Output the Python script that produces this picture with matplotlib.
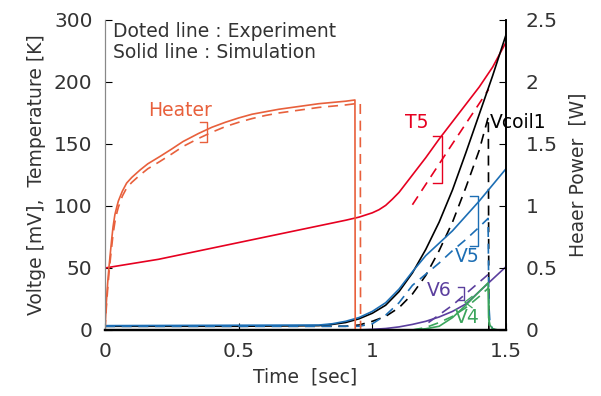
import numpy as np
import matplotlib.pyplot as plt

plt.rcParams['font.family'] = ['DejaVu Sans', 'Noto Sans CJK JP']

# heater power [W] (right axis)
heater_sim_t = [0, 0.005, 0.01, 0.015, 0.02, 0.025, 0.03, 0.037, 0.045, 0.05, 0.065,
                0.081, 0.1, 0.131, 0.16, 0.206, 0.25, 0.292, 0.35, 0.4, 0.45, 0.5,
                0.55, 0.6, 0.65, 0.7, 0.75, 0.8, 0.85, 0.9, 0.935, 0.936, 1.5]
heater_sim_w = [0, 0.22, 0.38, 0.51, 0.62, 0.73, 0.83, 0.93, 1.00, 1.04, 1.12,
                1.185, 1.23, 1.29, 1.34, 1.40, 1.46, 1.52, 1.585, 1.635, 1.675, 1.71,
                1.74, 1.76, 1.78, 1.795, 1.81, 1.825, 1.835, 1.845, 1.855, 0.0, 0.0]
heater_exp_t = [0, 0.005, 0.01, 0.015, 0.02, 0.025, 0.03, 0.037, 0.045, 0.05, 0.065,
                0.081, 0.1, 0.131, 0.16, 0.206, 0.25, 0.292, 0.35, 0.4, 0.45, 0.5,
                0.55, 0.6, 0.65, 0.7, 0.75, 0.8, 0.85, 0.9, 0.955, 0.956, 1.5]
heater_exp_w = [0, 0.18, 0.33, 0.46, 0.57, 0.67, 0.77, 0.87, 0.95, 0.99, 1.08,
                1.145, 1.19, 1.25, 1.30, 1.36, 1.42, 1.48, 1.545, 1.595, 1.64, 1.675,
                1.705, 1.73, 1.75, 1.765, 1.78, 1.795, 1.805, 1.815, 1.83, 0.0, 0.0]

# T5 [K]
t5_sim_t = [0, 0.2, 0.4, 0.6, 0.8, 0.9, 0.95, 1.0, 1.025, 1.05, 1.075, 1.1, 1.125,
            1.15, 1.2, 1.25, 1.3, 1.35, 1.4, 1.45, 1.5]
t5_sim = [50, 57, 66, 75, 84, 88.5, 91, 94.5, 97, 100.5, 105.5, 111, 118,
          125, 139, 154, 168, 182, 196, 212, 232]
t5_exp_t = [1.15, 1.29, 1.435]
t5_exp = [101, 147, 194]

# Vcoil1 [mV]
vc_sim_t = [0, 0.5, 0.8, 0.85, 0.9, 0.95, 1.0, 1.05, 1.1, 1.15, 1.2, 1.25, 1.3,
            1.35, 1.4, 1.45, 1.5]
vc_sim = [3, 3, 3.5, 4.5, 6, 9, 13.5, 20, 31, 46, 65, 87, 113, 143, 174, 205, 238]
vc_exp_t = [0, 0.9, 0.95, 1.0, 1.05, 1.1, 1.15, 1.2, 1.25, 1.3, 1.35, 1.4, 1.434,
            1.436, 1.5]
vc_exp = [3, 3, 4, 7, 11, 18, 29, 44, 64, 87, 115, 145, 172, 0, 0]

# V5 [mV]
v5_sim_t = [0, 0.8, 0.85, 0.9, 0.95, 1.0, 1.05, 1.1, 1.15, 1.2, 1.25, 1.3, 1.35,
            1.4, 1.45, 1.5]
v5_sim = [3.5, 4, 5, 7, 10, 15, 22, 33, 47, 60, 70, 80, 92, 104, 117, 130]
v5_exp_t = [0, 0.95, 1.0, 1.05, 1.1, 1.15, 1.2, 1.25, 1.3, 1.35, 1.4, 1.433,
            1.436, 1.44, 1.45, 1.46]
v5_exp = [3, 3, 5, 12, 22, 36, 45, 54, 64, 73, 83, 90, 20, 6, 1, 0]

# V6 [mV]
v6_sim_t = [0.95, 1.0, 1.05, 1.1, 1.15, 1.2, 1.25, 1.3, 1.35, 1.4, 1.45, 1.5]
v6_sim = [0, 0.5, 1.2, 2.5, 4.5, 7, 10.5, 15, 21, 31, 41, 51]
v6_exp_t = [1.21, 1.3, 1.44]
v6_exp = [6, 20, 46]

# V4 [mV]
v4_sim_t = [1.15, 1.2, 1.25, 1.3, 1.35, 1.4, 1.433, 1.435, 1.44, 1.45, 1.47]
v4_sim = [0, 1, 3, 10, 20, 31, 38, 10, 4, 1, 0]
v4_exp_t = [1.15, 1.2, 1.25, 1.3, 1.35, 1.4, 1.435, 1.437, 1.44]
v4_exp = [0, 2, 6, 11, 18, 27, 34, 5, 0]

c_heat = '#E8603C'
c_t5 = '#E60020'
c_vc = '#000000'
c_v5 = '#1C6EB4'
c_v6 = '#5B3F9E'
c_v4 = '#3BA55C'
txt = '#333333'
lw = 1.2
dash = (0, (6, 4))

fig = plt.figure(figsize=(6.01, 3.96), dpi=100)
ax = fig.add_axes([0.1747, 0.1667, 0.6672, 0.7828])
ax2 = ax.twinx()

ax.plot(t5_sim_t, t5_sim, color=c_t5, lw=lw)
ax.plot(t5_exp_t, t5_exp, color=c_t5, lw=lw, ls=dash)
ax.plot(vc_sim_t, vc_sim, color=c_vc, lw=lw)
ax.plot(vc_exp_t, vc_exp, color=c_vc, lw=lw, ls=dash)
ax.plot(v5_sim_t, v5_sim, color=c_v5, lw=lw)
ax.plot(v5_exp_t, v5_exp, color=c_v5, lw=lw, ls=dash)
ax.plot(v6_sim_t, v6_sim, color=c_v6, lw=lw)
ax.plot(v6_exp_t, v6_exp, color=c_v6, lw=lw, ls=dash)
ax.plot(v4_sim_t, v4_sim, color=c_v4, lw=lw)
ax.plot(v4_exp_t, v4_exp, color=c_v4, lw=lw, ls=dash)

ax2.plot(heater_sim_t, heater_sim_w, color=c_heat, lw=lw)
ax2.plot(heater_exp_t, heater_exp_w, color=c_heat, lw=lw, ls=dash)

ax.set_xlim(0, 1.5)
ax.set_ylim(0, 250)
ax2.set_ylim(0, 2.5)
ax.set_xticks([0, 0.5, 1, 1.5])
ax.set_xticklabels(['0', '0.5', '1', '1.5'])
ax.set_yticks([0, 50, 100, 150, 200, 250])
ax.set_yticklabels(['0', '50', '100', '150', '200', '300'])
ax2.set_yticks([0, 0.5, 1, 1.5, 2, 2.5])
ax2.set_yticklabels(['0', '0.5', '1', '1.5', '2', '2.5'])

for a in (ax, ax2):
    a.spines['top'].set_visible(False)
    a.spines['left'].set_color('#888888')
    a.spines['right'].set_color('black')
    a.spines['bottom'].set_color('black')
    a.spines['bottom'].set_linewidth(1.6)
    a.spines['right'].set_linewidth(1.2)
ax.tick_params(axis='both', direction='in', length=5, labelsize=14.5, labelcolor=txt,
               pad=9)
ax2.tick_params(axis='y', direction='in', length=5, labelsize=14.5, labelcolor=txt,
                pad=14)

ax.set_xlabel('Time  [sec]', fontsize=13.5, color=txt, labelpad=4)
ax.set_ylabel('Voltge [mV],  Temperature [K]', fontsize=13.5, color=txt, labelpad=6)
ax2.set_ylabel('Heaer Power  [W]', fontsize=13.5, color=txt, labelpad=8)

ax.text(0.03, 232, 'Doted line : Experiment\nSolid line : Simulation', fontsize=13.5,
        color=txt, va='center', ha='left', linespacing=1.15)

# labels and brackets
def bracket(x0, x1, y0, y1, color):
    ax.plot([x0, x1, x1, x0], [y1, y1, y0, y0], color=color, lw=1.0)

ax.text(0.161, 177, 'Heater', color=c_heat, fontsize=13.5, va='center', ha='left')
bracket(0.355, 0.382, 151.6, 168, c_heat)
ax.text(1.122, 167, 'T5', color=c_t5, fontsize=13.5, va='center', ha='left')
bracket(1.227, 1.261, 118.5, 156.5, c_t5)
ax.text(1.44, 167, 'Vcoil1', color=c_vc, fontsize=13.5, va='center', ha='left',
        clip_on=False)
ax.text(1.309, 59, 'V5', color=c_v5, fontsize=13.5, va='center', ha='left')
bracket(1.365, 1.395, 67.7, 108, c_v5)
ax.text(1.204, 32, 'V6', color=c_v6, fontsize=13.5, va='center', ha='left')
bracket(1.32, 1.343, 24.2, 34.7, c_v6)
ax.text(1.309, 9.7, 'V4', color=c_v4, fontsize=13.5, va='center', ha='left')
ax.plot([1.373, 1.346, 1.373], [27, 22.5, 18], color=c_v4, lw=0.9)

fig.savefig('out.png', dpi=100)
